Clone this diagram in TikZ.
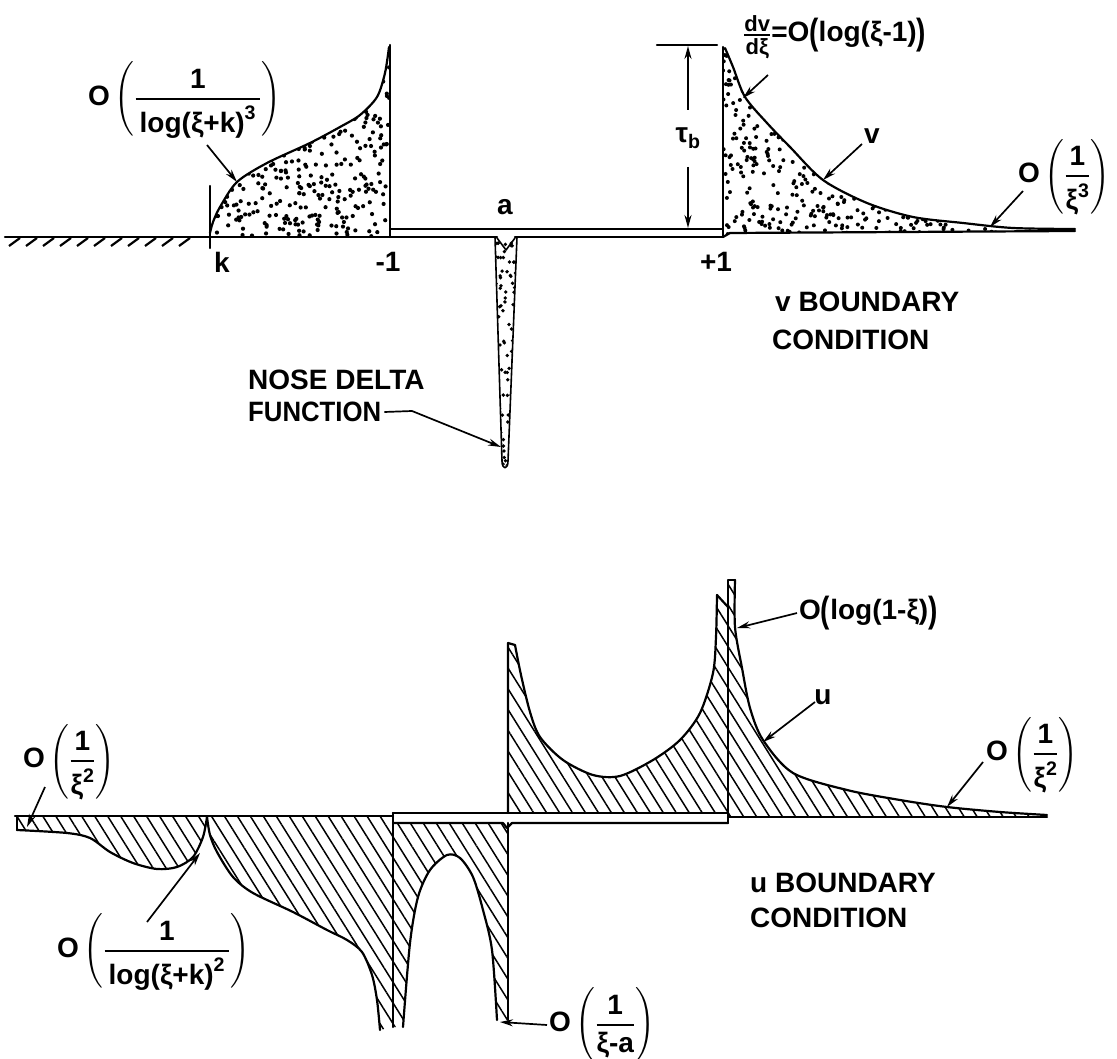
\documentclass[tikz,border=0pt]{standalone}
\usepackage{amsmath}
\usepackage{graphicx}
\usepackage{fontspec}
\setmainfont{Liberation Sans}
\usetikzlibrary{arrows.meta,patterns.meta}
\newcommand\Ofrac[2]{O\,$\left(\genfrac{}{}{2pt}{0}{#1}{#2}\right)$}
\newcommand\bigpL{\raisebox{-0.12em}{\scalebox{1}[1.3]{(}}}
\newcommand\bigpR{\raisebox{-0.12em}{\scalebox{1}[1.3]{)}}}
\tikzset{
  lbl/.style={font=\fontsize{28}{32}\selectfont\bfseries, inner sep=0pt},
  outl/.style={line width=2.2pt, line join=round, line cap=round},
  thinl/.style={line width=1.6pt, line join=round, line cap=round},
  hatch/.style={pattern={Lines[angle=-58,distance=11pt,line width=1.5pt]}},
  arr/.style={line width=1.7pt, -{Stealth[length=13pt,width=7pt]}},
}
\begin{document}
\begin{tikzpicture}[x=1pt,y=-1pt]
\useasboundingbox (0,0) rectangle (1117,1059);
\pgfmathsetseed{12345}

%================ TOP: v boundary condition =================
% ground hatching left of k
\draw[outl] (5,237) -- (497,237);
\foreach \x in {20,37,...,205} \draw[line width=2.2pt] (\x,238) -- ++(-11,8);
% k mark
\draw[outl] (210,186) -- (210,248);

% stippled region k .. -1
\begin{scope}
\clip (210,237) -- plot[smooth] coordinates {(210,233) (213,222) (220,207) (237,182) (267,163) (310,143) (340,127) (360,115) (377,97) (385,73) (389,47)} -- (390,45) -- (390,237) -- cycle;
\foreach \i in {1,...,480} \fill ({210+180*rnd},{45+192*rnd}) circle (2.1pt);
\end{scope}
\draw[outl] plot[smooth] coordinates {(210,233) (213,222) (220,207) (237,182) (267,163) (310,143) (340,127) (360,115) (377,97) (385,73) (389,47)};
\draw[outl] (390,45) -- (390,237);

% double line -1 .. +1
\draw[outl] (390,229) -- (723,229);
\draw[outl] (515,237) -- (723,237);

% nose delta function
\begin{scope}
\clip (495,237) -- (502,462) -- (505,468) -- (508,462) -- (517,237) -- cycle;
\foreach \i in {1,...,90} \fill ({495+22*rnd},{237+232*rnd}) circle (1.9pt);
\end{scope}
\draw[thinl] (495,237) -- (502,461) .. controls (502,470) and (508,470) .. (508,461) -- (517,237);
\draw[thinl] (497,238) -- (506,250) -- (515,238);

% stippled region right of +1
\begin{scope}
\clip (723,237) -- (723,47) -- plot[smooth] coordinates {(725,48) (733,67) (745,97) (767,123) (790,147) (823,180) (867,203) (913,217) (963,223) (1013,228) (1075,229)} -- (1075,231) -- (730,233) -- cycle;
\foreach \i in {1,...,1000} \fill ({723+352*rnd},{47+190*rnd}) circle (2pt);
\end{scope}
\draw[outl] (723,237) -- (723,47);
\draw[outl] plot[smooth] coordinates {(725,48) (733,67) (745,97) (767,123) (790,147) (823,180) (867,203) (913,217) (963,223) (1013,228) (1075,229)};
\draw[outl] (723,237) -- (730,233) -- (1075,231);

% tau_b dimension
\draw[outl] (657,45) -- (717,45);
\node[lbl] (tau) at (688,138) {τ$_{\text{b}}$};
\coordinate (tauA) at (688,110);
\coordinate (tauB) at (688,167);
\coordinate (tauT) at (688,46);
\coordinate (tauD) at (688,228);
\draw[arr] (tauA) -- (tauT);
\draw[arr] (tauB) -- (tauD);

% axis labels
\node[lbl] (lk) at (222,262) {k};
\node[lbl] (lm1) at (388,262) {-1};
\node[lbl] (lp1) at (716,262) {+1};
\node[lbl] (la) at (505,207) {a};

% O(1/log(xi+k)^3)
\node[lbl,anchor=west] (Ov3) at (88,100) {\Ofrac{\text{1}}{\,\text{log(ξ+k)}^{\text{3}}\,}};
\coordinate (Ov3s) at (207,145);
\coordinate (Ov3t) at (237,182);
\draw[arr] (Ov3s) -- (Ov3t);

% dv/dxi label
\node[lbl,anchor=west] (dvl) at (743,37) {$\genfrac{}{}{2pt}{1}{\text{\fontsize{22}{24}\selectfont\bfseries dv}}{\text{\fontsize{22}{24}\selectfont\bfseries dξ}}$=O\bigpL log(ξ-1)\bigpR};
\coordinate (dvs) at (768,75);
\coordinate (dvt) at (743,98);
\draw[arr] (dvs) -- (dvt);

% v label
\node[lbl] (vl) at (872,136) {v};
\coordinate (vs) at (862,144);
\coordinate (vt) at (823,180);
\draw[arr] (vs) -- (vt);

% O(1/xi^3)
\node[lbl,anchor=west] (Ox3) at (1018,177) {\Ofrac{\text{1}}{\text{ξ}^{\text{3}}}};
\coordinate (Ox3s) at (1023,191);
\coordinate (Ox3t) at (990,227);
\draw[arr] (Ox3s) -- (Ox3t);

% v boundary condition
\node[lbl,anchor=west] (vb1) at (775,302) {v BOUNDARY};
\node[lbl,anchor=west] (vb2) at (772,340) {CONDITION};

% nose delta function
\node[lbl,anchor=west] (nose1) at (248,380) {NOSE DELTA};
\node[lbl,anchor=west,xscale=0.92] (nose2) at (248,412) {FUNCTION};
\coordinate (noset) at (501,447);
\draw[arr] ([xshift=3pt]nose2.east) -- (412,411) -- (noset);

%================ BOTTOM: u boundary condition =================
% region left of k
\path[hatch] (17,816) -- (17,830) -- plot[smooth] coordinates {(17,830) (67,833) (90,838) (110,852) (133,863) (157,869) (177,867) (193,857) (203,837) (207,817)} -- cycle;
\draw[outl] (17,816) -- (17,830);
\draw[outl] plot[smooth] coordinates {(17,830) (67,833) (90,838) (110,852) (133,863) (157,869) (177,867) (193,857) (203,837) (207,817)};

% region k .. -1
\path[hatch] (207,817) -- plot[smooth] coordinates {(207,817) (210,835) (217,852) (233,877) (253,893) (293,912) (327,930) (347,940) (362,952) (372,975) (377,1000) (380,1030)} -- (393,1027) -- (393,816) -- cycle;
\draw[outl] plot[smooth] coordinates {(207,817) (210,835) (217,852) (233,877) (253,893) (293,912) (327,930) (347,940) (362,952) (372,975) (377,1000) (380,1030)};
\draw[outl] (393,813) -- (393,1027);

% region -1 .. a (with arch)
\path[hatch] (393,823) -- (393,1027) -- (403,1027) -- plot[smooth] coordinates {(403,1027) (410,943) (418,897) (430,870) (447,855) (460,858) (473,877) (483,910) (492,950) (497,1020)} -- (508,1020) -- (508,823) -- cycle;
\draw[outl] plot[smooth] coordinates {(403,1027) (410,943) (418,897) (430,870) (447,855) (460,858) (473,877) (483,910) (492,950) (497,1020)};
\draw[outl] (508,823) -- (508,1020);

% region a .. +1 (above)
\path[hatch] (508,813) -- (508,643) -- (515,645) -- plot[smooth] coordinates {(515,645) (521,675) (530,712) (540,737) (563,760) (593,775) (620,776) (653,760) (680,740) (700,713) (713,673) (716,637) (717,595)} -- (728,607) -- (728,813) -- cycle;
\draw[outl] (508,813) -- (508,643) -- (515,645);
\draw[outl] plot[smooth] coordinates {(515,645) (521,675) (530,712) (540,737) (563,760) (593,775) (620,776) (653,760) (680,740) (700,713) (713,673) (716,637) (717,595)};
\draw[outl] (717,595) -- (728,607);

% region right of +1
\path[hatch] (728,817) -- (728,580) -- (735,580) -- plot[smooth] coordinates {(735,580) (735,627) (742,668) (750,708) (763,740) (793,773) (847,790) (900,800) (947,807) (1000,812) (1047,815)} -- (1047,817) -- cycle;
\draw[outl] (728,823) -- (728,580) -- (735,580);
\draw[outl] plot[smooth] coordinates {(735,580) (735,627) (742,668) (750,708) (763,740) (793,773) (847,790) (900,800) (947,807) (1000,812) (1047,815)};

% baselines
\draw[outl] (15,816) -- (393,816);
\draw[outl] (393,813) -- (728,813);
\draw[outl] (393,823) -- (503,823) -- (507,828) -- (512,823) -- (728,823);
\draw[outl] (728,817) -- (1047,817);

% labels bottom
\node[lbl,anchor=west] (Olog1) at (799,613) {O\bigpL log(1-ξ)\bigpR};
\coordinate (Olog1t) at (737,628);
\draw[arr] ([xshift=-2pt]Olog1.west) -- (Olog1t);

\node[lbl] (ul) at (823,697) {u};
\coordinate (us) at (815,702);
\coordinate (ut) at (763,742);
\draw[arr] (us) -- (ut);

\node[lbl,anchor=west] (OxR) at (986,755) {\Ofrac{\text{1}}{\text{ξ}^{\text{2}}}};
\coordinate (OxRs) at (983,762);
\coordinate (OxRt) at (947,807);
\draw[arr] (OxRs) -- (OxRt);

\node[lbl,anchor=west] (OxL) at (23,762) {\Ofrac{\text{1}}{\text{ξ}^{\text{2}}}};
\coordinate (OxLs) at (45,787);
\coordinate (OxLt) at (27,827);
\draw[arr] (OxLs) -- (OxLt);

\node[lbl,anchor=west] (Ol2) at (57,952) {\Ofrac{\text{1}}{\,\text{log(ξ+k)}^{\text{2}}\,}};
\coordinate (Ol2s) at (147,922);
\coordinate (Ol2t) at (200,853);
\draw[arr] (Ol2s) -- (Ol2t);

\node[lbl,anchor=west] (Oxa) at (549,1025) {\Ofrac{\text{1}}{\text{ξ-a}}};
\coordinate (Oxat) at (500,1022);
\draw[arr] ([xshift=-2pt]Oxa.west) -- (Oxat);

\node[lbl,anchor=west] (ub1) at (750,883) {u BOUNDARY};
\node[lbl,anchor=west] (ub2) at (750,918) {CONDITION};
\end{tikzpicture}
\end{document}
